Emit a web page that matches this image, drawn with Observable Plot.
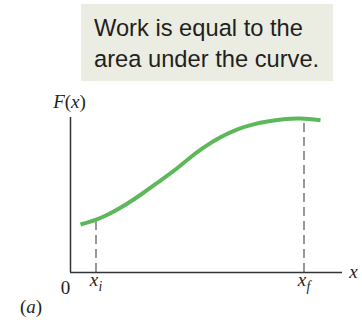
<!DOCTYPE html>
<html>
<head>
<meta charset="utf-8">
<script src="https://cdn.jsdelivr.net/npm/d3@7"></script>
<script src="https://cdn.jsdelivr.net/npm/@observablehq/plot@0.6"></script>
<style>
  html, body { margin: 0; padding: 0; background: #ffffff; }
  #note {
    box-sizing: border-box;
    margin: 4px 0 0 81px;
    width: 252px;
    height: 77px;
    padding: 9.4px 0 0 13px;
    background: #ebede3;
    color: #231f20;
    font-family: "Liberation Sans", Arial, sans-serif;
    font-size: 23.7px;
    line-height: 31px;
    white-space: nowrap;
  }
  #chart svg { display: block; margin-top: 4px; overflow: visible; }
</style>
</head>
<body>
<div id="note">Work is equal to the<br>area under the curve.</div>
<div id="chart"></div>
<script>
// ---- data (x, F(x) in arbitrary units) ----
const curveX = [10, 25, 38, 55, 72, 88, 105, 117, 133, 150, 167, 183, 197, 213, 230, 250];
const curveY = [48, 52.7, 58.3, 67.8, 79, 90.5, 103, 112.8, 124.8, 135.2, 143.1, 148.1, 151, 153.2, 154, 152.2];

const dropX = [25.5, 233.5];          // x_i, x_f
const dropTop = [52.8, 153.8];        // F at x_i, x_f
const dropLabels = ["x_i", "x_f"];

const xEnd = 272;                     // end of the x axis
const yTop = 155;                     // top of the F(x) axis
const yLabel = "F(x)";
const xLabel = "x";
const originLabel = "0";
const panelLabel = "(a)";

// ---- tables built from the arrays ----
const curve = curveX.map((x, i) => ({x, y: curveY[i]}));
const drops = dropX.map((x, i) => ({x, top: dropTop[i], label: dropLabels[i]}));

const serif = "Liberation Serif, Times New Roman, serif";
const fs = 19;
const ink = "#231f20";

const chart = Plot.plot({
  width: 362,
  height: 237,
  marginLeft: 70,
  marginRight: 20,
  marginTop: 32,
  marginBottom: 50,
  x: {domain: [0, xEnd], axis: null},
  y: {domain: [0, yTop], axis: null},
  style: {background: "transparent", overflow: "visible"},
  marks: [
    // dashed drop lines
    Plot.ruleX(drops, {x: "x", y1: 0, y2: "top", stroke: "#6e6e6e", strokeWidth: 1.4, strokeDasharray: "9,5"}),
    // axes
    Plot.ruleX([0], {y1: 0, y2: yTop, stroke: "#333", strokeWidth: 1.5}),
    Plot.ruleY([0], {x1: 0, x2: xEnd, stroke: "#333", strokeWidth: 1.5}),
    // the force curve
    Plot.line(curve, {x: "x", y: "y", curve: "natural", stroke: "#5cb85a", strokeWidth: 4, strokeLinecap: "butt"}),
    // labels
    Plot.text(drops, {x: "x", y: () => 0, text: "label", dy: 7.9, textAnchor: "middle", fontFamily: serif, fontSize: fs, fill: ink}),
    Plot.text([yLabel], {x: () => 0, y: () => yTop, text: d => d, dx: -1, dy: -15.1, textAnchor: "middle", fontFamily: serif, fontSize: fs, fill: ink}),
    Plot.text([xLabel], {x: () => xEnd, y: () => 0, text: d => d, dx: 11, dy: -0.1, textAnchor: "middle", fontFamily: serif, fontSize: fs, fill: ink}),
    Plot.text([originLabel], {x: () => 0, y: () => 0, text: d => d, dx: -5, dy: 15.9, textAnchor: "middle", fontFamily: serif, fontSize: fs, fill: ink}),
    Plot.text([panelLabel], {x: () => 0, y: () => 0, text: d => d, dx: -39.5, dy: 34.9, textAnchor: "middle", fontFamily: serif, fontSize: fs, fill: ink})
  ]
});

// math-style typesetting: letters italic, punctuation upright, "_c" subscript
const mathLabels = new Set([...dropLabels, yLabel, xLabel, panelLabel]);
const NS = "http://www.w3.org/2000/svg";
chart.querySelectorAll("text").forEach(t => {
  const s = t.textContent;
  if (!mathLabels.has(s)) return;
  t.textContent = "";
  for (let i = 0; i < s.length; i++) {
    let c = s[i];
    const span = document.createElementNS(NS, "tspan");
    if (c === "_" && i + 1 < s.length) {
      c = s[++i];
      span.setAttribute("font-size", "72%");
      span.setAttribute("dy", "0.3em");
      span.setAttribute("dx", "0.02em");
    }
    if (/[A-Za-z]/.test(c)) span.setAttribute("font-style", "italic");
    span.textContent = c;
    t.appendChild(span);
  }
});

document.getElementById("chart").appendChild(chart);
</script>
</body>
</html>
